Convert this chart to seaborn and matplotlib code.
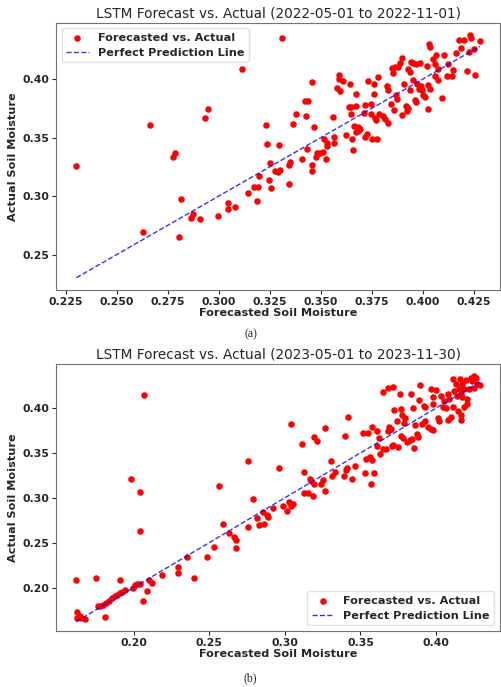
import matplotlib
matplotlib.use("Agg")
import matplotlib.pyplot as plt
import numpy as np
import seaborn as sns

# --- 2022 season: forecasted vs actual soil moisture ---
forecast_2022 = [
    0.2302, 0.2627, 0.2661, 0.2777, 0.2786, 0.2814, 0.2807, 0.2865, 0.2876, 0.2907,
    0.2933, 0.2947, 0.2996, 0.3045, 0.3045, 0.3079, 0.3116, 0.3142, 0.3171, 0.3190,
    0.3189, 0.3198, 0.3229, 0.3237, 0.3244, 0.3250, 0.3256, 0.3276, 0.3292, 0.3300,
    0.3297, 0.3310, 0.3342, 0.3350, 0.3345, 0.3366, 0.3376, 0.3408, 0.3421, 0.3437,
    0.3429, 0.3434, 0.3459, 0.3458, 0.3458, 0.3469, 0.3477, 0.3480, 0.3496, 0.3509,
    0.3516, 0.3524, 0.3529, 0.3532, 0.3558, 0.3566, 0.3566, 0.3577, 0.3590, 0.3587,
    0.3596, 0.3608, 0.3622, 0.3638, 0.3648, 0.3641, 0.3649, 0.3656, 0.3654, 0.3664,
    0.3670, 0.3673, 0.3670, 0.3683, 0.3680, 0.3691, 0.3712, 0.3715, 0.3715, 0.3727,
    0.3731, 0.3744, 0.3748, 0.3751, 0.3760, 0.3760, 0.3764, 0.3770, 0.3783, 0.3775,
    0.3780, 0.3804, 0.3815, 0.3823, 0.3831, 0.3831, 0.3843, 0.3847, 0.3855, 0.3864,
    0.3860, 0.3868, 0.3872, 0.3880, 0.3888, 0.3896, 0.3899, 0.3909, 0.3915, 0.3922,
    0.3928, 0.3928, 0.3936, 0.3941, 0.3952, 0.3939, 0.3952, 0.3963, 0.3968, 0.3968,
    0.3984, 0.3973, 0.3979, 0.3992, 0.3997, 0.4008, 0.4000, 0.4025, 0.4025, 0.4018,
    0.4029, 0.4033, 0.4033, 0.4049, 0.4057, 0.4057, 0.4073, 0.4073, 0.4065, 0.4092,
    0.4105, 0.4116, 0.4121, 0.4141, 0.4150, 0.4161, 0.4178, 0.4186, 0.4202, 0.4218,
    0.4226, 0.4229, 0.4237, 0.4250, 0.4256, 0.4279,
]
actual_2022 = [
    0.3253, 0.2690, 0.3608, 0.3338, 0.3372, 0.2974, 0.2651, 0.2815, 0.2844, 0.2804,
    0.3670, 0.3744, 0.2832, 0.2938, 0.2886, 0.2903, 0.4082, 0.3023, 0.3074, 0.3074,
    0.2955, 0.3170, 0.3608, 0.3449, 0.3136, 0.3281, 0.3071, 0.3216, 0.3205, 0.3222,
    0.3440, 0.4352, 0.3264, 0.3295, 0.3105, 0.3619, 0.3702, 0.3318, 0.3813, 0.3813,
    0.3682, 0.3401, 0.3974, 0.3267, 0.3213, 0.3594, 0.3330, 0.3369, 0.3364, 0.3378,
    0.3491, 0.3321, 0.3429, 0.3455, 0.3673, 0.3503, 0.3457, 0.3926, 0.4034, 0.4003,
    0.3898, 0.3986, 0.3526, 0.3764, 0.3764, 0.3957, 0.3702, 0.3395, 0.3491, 0.3599,
    0.3548, 0.3767, 0.3869, 0.3591, 0.3554, 0.3571, 0.3710, 0.3778, 0.3506, 0.3528,
    0.3986, 0.3705, 0.3790, 0.3486, 0.3960, 0.3869, 0.3668, 0.3651, 0.3705, 0.3486,
    0.4017, 0.3688, 0.3662, 0.3943, 0.3903, 0.3625, 0.3790, 0.4091, 0.4051, 0.4102,
    0.3739, 0.3866, 0.3832, 0.4102, 0.4136, 0.4182, 0.3690, 0.3960, 0.3767, 0.3724,
    0.3756, 0.4088, 0.4060, 0.4145, 0.4136, 0.3903, 0.3989, 0.3818, 0.3804, 0.4131,
    0.4136, 0.3960, 0.3918, 0.3938, 0.3903, 0.3847, 0.3866, 0.3946, 0.3744, 0.4108,
    0.4301, 0.4278, 0.3918, 0.4173, 0.4131, 0.4023, 0.3989, 0.4082, 0.4202, 0.3841,
    0.4207, 0.4023, 0.4131, 0.4023, 0.4080, 0.4222, 0.4330, 0.4267, 0.4330, 0.4065,
    0.4230, 0.4378, 0.4352, 0.4253, 0.4034, 0.4321,
]

# --- 2023 season ---
forecast_2023 = [
    0.1620, 0.1624, 0.1628, 0.1652, 0.1680, 0.1646, 0.1752, 0.1765, 0.1778, 0.1798,
    0.1815, 0.1837, 0.1859, 0.1876, 0.1891, 0.1907, 0.1924, 0.1941, 0.1809, 0.1909,
    0.1983, 0.1993, 0.2007, 0.2020, 0.2039, 0.2041, 0.2041, 0.2067, 0.2065, 0.2087,
    0.2102, 0.2120, 0.2189, 0.2296, 0.2296, 0.2354, 0.2396, 0.2483, 0.2533, 0.2565,
    0.2591, 0.2630, 0.2663, 0.2674, 0.2676, 0.2757, 0.2757, 0.2787, 0.2815, 0.2826,
    0.2854, 0.2861, 0.2885, 0.2891, 0.2924, 0.2963, 0.2989, 0.3011, 0.3026, 0.3043,
    0.3054, 0.3041, 0.3113, 0.3124, 0.3124, 0.3152, 0.3163, 0.3176, 0.3196, 0.3189,
    0.3191, 0.3215, 0.3239, 0.3254, 0.3263, 0.3265, 0.3307, 0.3315, 0.3330, 0.3391,
    0.3404, 0.3409, 0.3398, 0.3415, 0.3446, 0.3467, 0.3517, 0.3550, 0.3533, 0.3537,
    0.3563, 0.3576, 0.3589, 0.3572, 0.3576, 0.3609, 0.3609, 0.3624, 0.3630, 0.3652,
    0.3652, 0.3667, 0.3680, 0.3689, 0.3700, 0.3680, 0.3717, 0.3709, 0.3717, 0.3746,
    0.3722, 0.3739, 0.3761, 0.3767, 0.3776, 0.3793, 0.3785, 0.3767, 0.3783, 0.3811,
    0.3826, 0.3841, 0.3833, 0.3848, 0.3859, 0.3854, 0.3876, 0.3880, 0.3885, 0.3891,
    0.3920, 0.3924, 0.3907, 0.3928, 0.3946, 0.3967, 0.3983, 0.3967, 0.3978, 0.3983,
    0.4000, 0.4011, 0.4022, 0.4033, 0.4043, 0.4054, 0.4065, 0.4076, 0.4080, 0.4098,
    0.4087, 0.4109, 0.4120, 0.4130, 0.4115, 0.4137, 0.4146, 0.4152, 0.4163, 0.4167,
    0.4159, 0.4174, 0.4185, 0.4196, 0.4203, 0.4207, 0.4217, 0.4228, 0.4239, 0.4250,
    0.4261, 0.4272, 0.4250, 0.4289, 0.4163, 0.4185, 0.4174,
]
actual_2023 = [
    0.2085, 0.1723, 0.1660, 0.1660, 0.1649, 0.1678, 0.2111, 0.1789, 0.1797, 0.1804,
    0.1826, 0.1852, 0.1878, 0.1900, 0.1919, 0.1937, 0.1952, 0.1967, 0.1671, 0.2089,
    0.3213, 0.1993, 0.2030, 0.2037, 0.2037, 0.3061, 0.2628, 0.4148, 0.1845, 0.1956,
    0.2085, 0.2048, 0.2144, 0.2233, 0.2166, 0.2336, 0.2111, 0.2336, 0.2451, 0.3135,
    0.2710, 0.2610, 0.2566, 0.2529, 0.2436, 0.3412, 0.2673, 0.2987, 0.2773, 0.2702,
    0.2843, 0.2710, 0.2813, 0.2791, 0.2887, 0.3327, 0.2913, 0.2854, 0.2950, 0.2906,
    0.2932, 0.3823, 0.3601, 0.3283, 0.3054, 0.3054, 0.3205, 0.3183, 0.3150, 0.3017,
    0.3682, 0.3630, 0.3157, 0.3201, 0.3778, 0.3072, 0.3409, 0.3238, 0.3283, 0.3238,
    0.3305, 0.3327, 0.3693, 0.3900, 0.3205, 0.3353, 0.3726, 0.3719, 0.3279, 0.3431,
    0.3457, 0.3416, 0.3272, 0.3150, 0.3793, 0.3749, 0.3582, 0.3664, 0.3490, 0.4181,
    0.3545, 0.3541, 0.3741, 0.3786, 0.3767, 0.4229, 0.4237, 0.3582, 0.3590, 0.3564,
    0.3978, 0.3852, 0.4155, 0.3989, 0.3926, 0.3889, 0.3837, 0.3693, 0.3664, 0.3619,
    0.3645, 0.3656, 0.4155, 0.4004, 0.3815, 0.3556, 0.3712, 0.3675, 0.4089, 0.4259,
    0.4022, 0.3860, 0.3823, 0.4007, 0.3793, 0.3767, 0.3756, 0.4218, 0.4118, 0.4044,
    0.4200, 0.3889, 0.3860, 0.4137, 0.4007, 0.4081, 0.4004, 0.4155, 0.3867, 0.3896,
    0.4100, 0.4329, 0.4192, 0.4266, 0.4007, 0.4137, 0.3970, 0.4211, 0.3867, 0.3926,
    0.4322, 0.4274, 0.4211, 0.4311, 0.4100, 0.4044, 0.4211, 0.4340, 0.4303, 0.4359,
    0.4333, 0.4274, 0.4229, 0.4255, 0.4155, 0.4007, 0.4118,
]

titles = [
    "LSTM Forecast vs. Actual (2022-05-01 to 2022-11-01)",
    "LSTM Forecast vs. Actual (2023-05-01 to 2023-11-30)",
]
captions = ["(a)", "(b)"]
legend_locs = ["upper left", "lower right"]
ticks_2023 = [0.20, 0.25, 0.30, 0.35, 0.40]

sns.set_style("ticks", {"axes.edgecolor": "0.45"})
plt.rcParams["font.family"] = ["DejaVu Sans"]

fig = plt.figure(figsize=(5.01, 6.87), dpi=100)
ax_top = fig.add_axes([0.112, 0.578, 0.886, 0.389])
ax_bot = fig.add_axes([0.112, 0.0815, 0.886, 0.389])

panels = [
    (ax_top, forecast_2022, actual_2022),
    (ax_bot, forecast_2023, actual_2023),
]

for i, (ax, fc, ac) in enumerate(panels):
    fc = np.array(fc)
    ac = np.array(ac)
    sns.scatterplot(x=fc, y=ac, ax=ax, color="red", s=22, linewidth=0,
                    label="Forecasted vs. Actual")
    lo, hi = fc.min(), fc.max()
    ax.plot([lo, hi], [lo, hi], color="blue", linestyle="--", linewidth=1.0,
            alpha=0.8, label="Perfect Prediction Line")
    ax.set_title(titles[i], fontsize=9.8, pad=4)
    ax.set_xlabel("Forecasted Soil Moisture", fontsize=8.1, fontweight="bold",
                  labelpad=1)
    ax.set_ylabel("Actual Soil Moisture", fontsize=8.1, fontweight="bold",
                  labelpad=3)
    if i == 1:
        ax.set_xticks(ticks_2023)
        ax.set_yticks(ticks_2023)
        ax.set_xlim(0.1487, 0.4423)
        ax.set_ylim(0.1515, 0.4494)
    ax.tick_params(labelsize=7.8, length=3, width=0.8, pad=2)
    for lab in ax.get_xticklabels() + ax.get_yticklabels():
        lab.set_fontweight("bold")
    leg = ax.legend(loc=legend_locs[i], frameon=True,
                    prop={"weight": "bold", "size": 8.1},
                    borderpad=0.4, handlelength=2.0, labelspacing=0.45)
    leg.get_frame().set_edgecolor("0.85")

fig.text(0.5, 1 - 334 / 687, captions[0], ha="center", va="center",
         fontsize=8.5, family="Liberation Serif")
fig.text(0.5, 1 - 678 / 687, captions[1], ha="center", va="center",
         fontsize=8.5, family="Liberation Serif")

fig.savefig("out.png", dpi=100, facecolor="white")
